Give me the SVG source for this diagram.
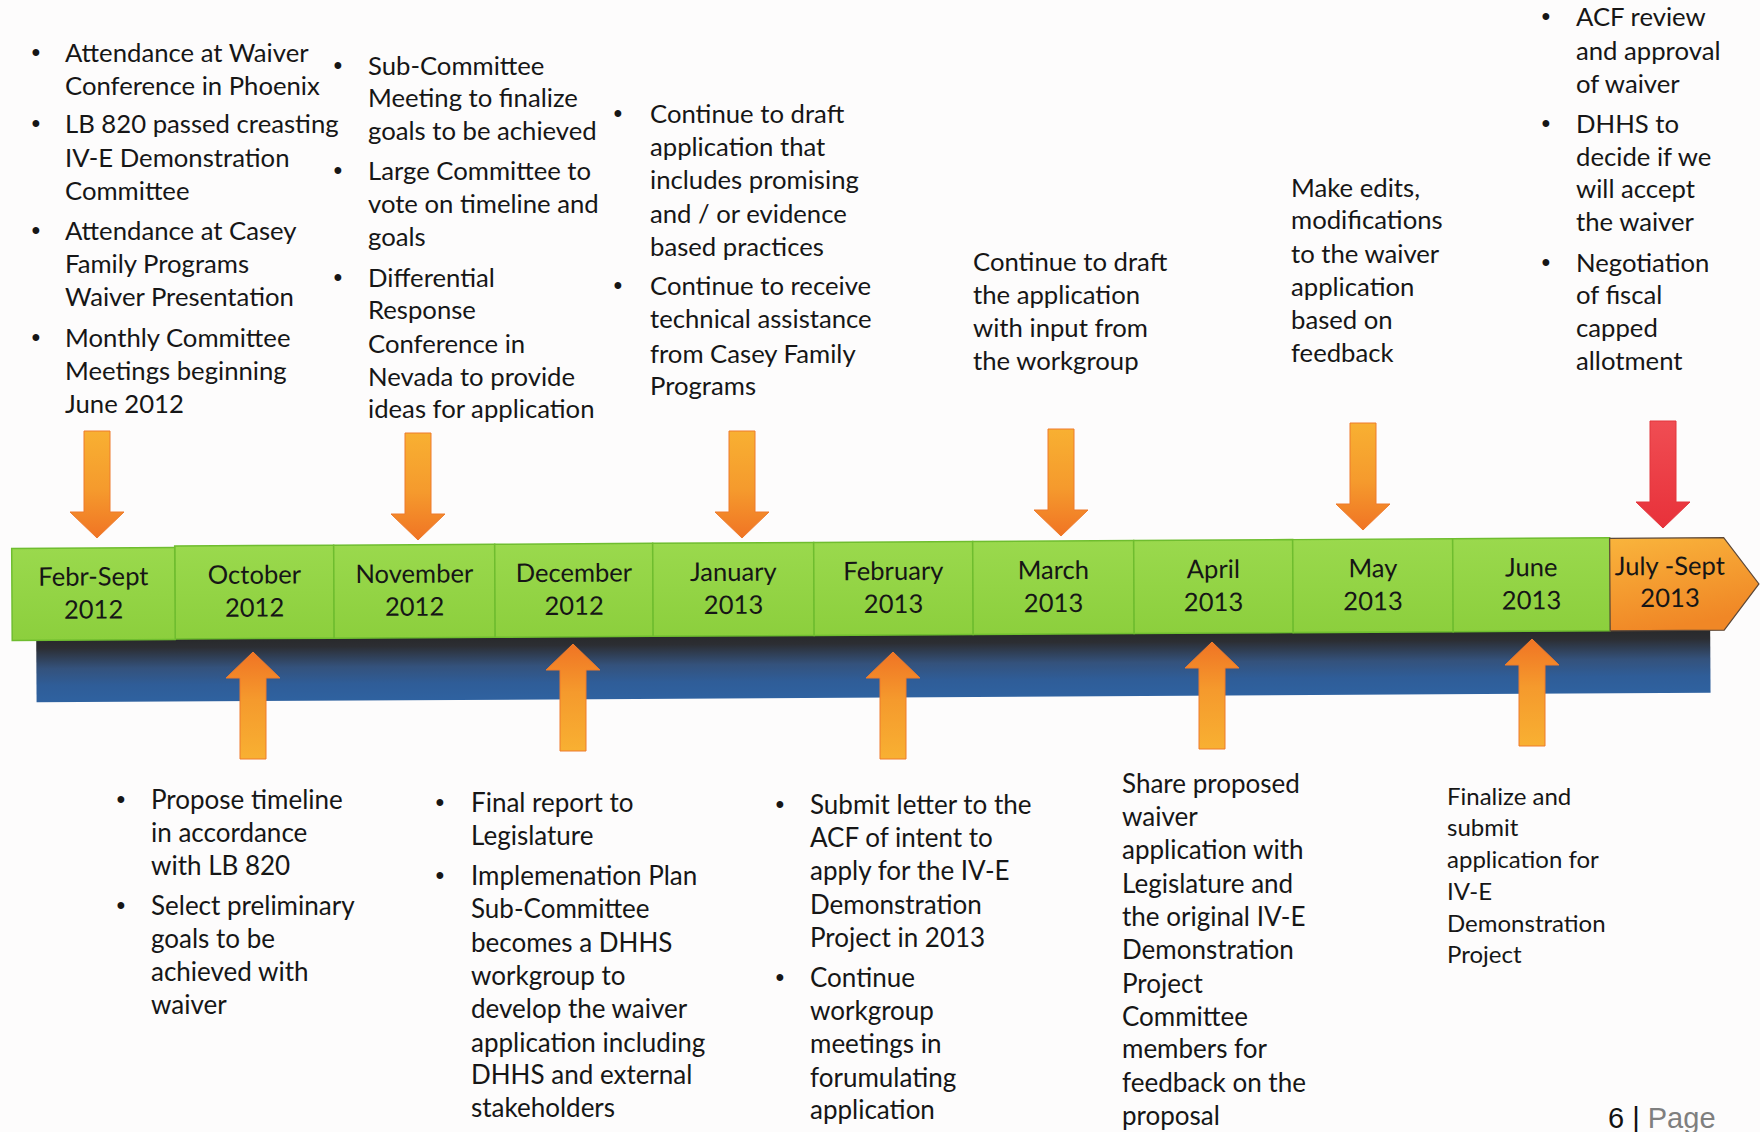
<svg xmlns="http://www.w3.org/2000/svg" xmlns:xlink="http://www.w3.org/1999/xlink" width="1760" height="1132" viewBox="0 0 1760 1132">
  <defs>
    <style>
      .body { font-family: Lato, "Liberation Sans", sans-serif; font-size: 25.7px; fill: #161616; }
      .lower { font-size: 26px; }
      .small { font-size: 24px; }
      .bullet { font-family: "Liberation Sans", sans-serif; font-size: 25px; fill: #161616; text-anchor: middle; }
      .month { font-family: Lato, "Liberation Sans", sans-serif; font-size: 25.6px; fill: #161616; text-anchor: middle; }
      .seg { fill: url(#greenFill); stroke: #6fbd2f; stroke-width: 1.5; }
      .arr { fill: url(#orangeArrow); stroke: #ee7a2c; stroke-width: 1; }
      .footer { font-family: "Liberation Sans", sans-serif; font-size: 29px; }
    </style>
    <linearGradient id="greenFill" x1="0" y1="0" x2="0" y2="1">
      <stop offset="0" stop-color="#9ad94d"/>
      <stop offset="1" stop-color="#8ccf3d"/>
    </linearGradient>
    <linearGradient id="bandFill" x1="0" y1="0" x2="0" y2="1">
      <stop offset="0" stop-color="#262626"/>
      <stop offset="0.2" stop-color="#2c2e33"/>
      <stop offset="0.5" stop-color="#34527c"/>
      <stop offset="0.75" stop-color="#2f5d98"/>
      <stop offset="1" stop-color="#2f62a0"/>
    </linearGradient>
    <linearGradient id="orangeBox" x1="0" y1="0" x2="0.3" y2="1">
      <stop offset="0" stop-color="#f9b43c"/>
      <stop offset="1" stop-color="#f08726"/>
    </linearGradient>
    <linearGradient id="orangeArrow" x1="0" y1="0" x2="0" y2="1">
      <stop offset="0" stop-color="#f8b032"/>
      <stop offset="0.55" stop-color="#f59a2d"/>
      <stop offset="1" stop-color="#f07424"/>
    </linearGradient>
    <linearGradient id="redArrow" x1="0" y1="0" x2="0" y2="1">
      <stop offset="0" stop-color="#f04d53"/>
      <stop offset="1" stop-color="#e8313a"/>
    </linearGradient>
    <!-- block arrow pointing down, tip at the origin -->
    <path id="arrow" d="M-13,-107 H13 V-26 H27 L0,0 L-27,-26 H-13 Z"/>
  </defs>

  <rect x="0" y="0" width="1760" height="1132" fill="#fdfcfc"/>

  <!-- timeline bar (slightly tilted) -->
  <g id="timeline" transform="rotate(-0.33 880 600)">
    <rect id="band" x="36" y="630" width="1674" height="67.5" fill="url(#bandFill)"/>
    <g id="node-oct"><rect class="seg" x="175" y="542" width="159" height="93"/>
      <text class="month" x="254.5" y="580">October<tspan x="254.5" y="613">2012</tspan></text></g>
    <g id="node-nov"><rect class="seg" x="334" y="542" width="161" height="93"/>
      <text class="month" x="414.5" y="580">November<tspan x="414.5" y="613">2012</tspan></text></g>
    <g id="node-dec"><rect class="seg" x="495" y="542" width="158" height="93"/>
      <text class="month" x="574" y="580">December<tspan x="574" y="613">2012</tspan></text></g>
    <g id="node-jan"><rect class="seg" x="653" y="542" width="161" height="93"/>
      <text class="month" x="733.5" y="580">January<tspan x="733.5" y="613">2013</tspan></text></g>
    <g id="node-feb"><rect class="seg" x="814" y="542" width="159" height="93"/>
      <text class="month" x="893.5" y="580">February<tspan x="893.5" y="613">2013</tspan></text></g>
    <g id="node-mar"><rect class="seg" x="973" y="542" width="161" height="93"/>
      <text class="month" x="1053.5" y="580">March<tspan x="1053.5" y="613">2013</tspan></text></g>
    <g id="node-apr"><rect class="seg" x="1134" y="542" width="159" height="93"/>
      <text class="month" x="1213.5" y="580">April<tspan x="1213.5" y="613">2013</tspan></text></g>
    <g id="node-may"><rect class="seg" x="1293" y="542" width="160" height="93"/>
      <text class="month" x="1373" y="580">May<tspan x="1373" y="613">2013</tspan></text></g>
    <g id="node-jun"><rect class="seg" x="1453" y="542" width="157" height="93"/>
      <text class="month" x="1531.5" y="580">June<tspan x="1531.5" y="613">2013</tspan></text></g>
    <g id="node-febsept"><rect class="seg" x="12" y="543.5" width="163" height="92"/>
      <text class="month" x="93.5" y="581">Febr-Sept<tspan x="93.5" y="614">2012</tspan></text></g>
    <g id="node-julsept">
      <path d="M1610,542.5 H1724 L1759,589 L1724,635 H1610 Z" fill="url(#orangeBox)" stroke="#5d4838" stroke-width="1.2"/>
      <text class="month" x="1670" y="579.5">July -Sept<tspan x="1670" y="611.5">2013</tspan></text></g>
  </g>

  <!-- arrows linking notes to months -->
  <g id="connectors">
    <use href="#arrow" class="arr" transform="translate(97,538)"/>
    <use href="#arrow" class="arr" transform="translate(418,540)"/>
    <use href="#arrow" class="arr" transform="translate(742,538)"/>
    <use href="#arrow" class="arr" transform="translate(1061,536)"/>
    <use href="#arrow" class="arr" transform="translate(1363,530)"/>
    <use href="#arrow" fill="url(#redArrow)" stroke="#e2363c" stroke-width="1" transform="translate(1663,528)"/>
    <use href="#arrow" class="arr" transform="translate(253,652) rotate(180)"/>
    <use href="#arrow" class="arr" transform="translate(573,644) rotate(180)"/>
    <use href="#arrow" class="arr" transform="translate(893,652) rotate(180)"/>
    <use href="#arrow" class="arr" transform="translate(1212,642) rotate(180)"/>
    <use href="#arrow" class="arr" transform="translate(1532,639) rotate(180)"/>
  </g>

  <!-- notes above the bar -->
  <g id="note-febsept">
    <text class="bullet"><tspan x="36" y="61">•</tspan><tspan x="36" y="132">•</tspan><tspan x="36" y="239">•</tspan><tspan x="36" y="346">•</tspan></text>
    <text class="body">
      <tspan x="65" y="62">Attendance at Waiver</tspan>
      <tspan x="65" y="95">Conference in Phoenix</tspan>
      <tspan x="65" y="133">LB 820 passed creasting</tspan>
      <tspan x="65" y="167">IV-E Demonstration</tspan>
      <tspan x="65" y="200">Committee</tspan>
      <tspan x="65" y="240">Attendance at Casey</tspan>
      <tspan x="65" y="273">Family Programs</tspan>
      <tspan x="65" y="306">Waiver Presentation</tspan>
      <tspan x="65" y="347">Monthly Committee</tspan>
      <tspan x="65" y="380">Meetings beginning</tspan>
      <tspan x="65" y="413">June 2012</tspan>
    </text>
  </g>
  <g id="note-nov">
    <text class="bullet"><tspan x="338" y="74">•</tspan><tspan x="338" y="179">•</tspan><tspan x="338" y="286">•</tspan></text>
    <text class="body">
      <tspan x="368" y="75">Sub-Committee</tspan>
      <tspan x="368" y="107">Meeting to finalize</tspan>
      <tspan x="368" y="140">goals to be achieved</tspan>
      <tspan x="368" y="180">Large Committee to</tspan>
      <tspan x="368" y="213">vote on timeline and</tspan>
      <tspan x="368" y="246">goals</tspan>
      <tspan x="368" y="287">Differential</tspan>
      <tspan x="368" y="319">Response</tspan>
      <tspan x="368" y="353">Conference in</tspan>
      <tspan x="368" y="386">Nevada to provide</tspan>
      <tspan x="368" y="418">ideas for application</tspan>
    </text>
  </g>
  <g id="note-jan">
    <text class="bullet"><tspan x="618" y="122">•</tspan><tspan x="618" y="294">•</tspan></text>
    <text class="body">
      <tspan x="650" y="123">Continue to draft</tspan>
      <tspan x="650" y="156">application that</tspan>
      <tspan x="650" y="189">includes promising</tspan>
      <tspan x="650" y="223">and / or evidence</tspan>
      <tspan x="650" y="256">based practices</tspan>
      <tspan x="650" y="295">Continue to receive</tspan>
      <tspan x="650" y="328">technical assistance</tspan>
      <tspan x="650" y="363">from Casey Family</tspan>
      <tspan x="650" y="395">Programs</tspan>
    </text>
  </g>
  <g id="note-mar">
    <text class="body">
      <tspan x="973" y="271">Continue to draft</tspan>
      <tspan x="973" y="304">the application</tspan>
      <tspan x="973" y="337">with input from</tspan>
      <tspan x="973" y="370">the workgroup</tspan>
    </text>
  </g>
  <g id="note-may">
    <text class="body">
      <tspan x="1291" y="197">Make edits,</tspan>
      <tspan x="1291" y="229">modifications</tspan>
      <tspan x="1291" y="263">to the waiver</tspan>
      <tspan x="1291" y="296">application</tspan>
      <tspan x="1291" y="329">based on</tspan>
      <tspan x="1291" y="362">feedback</tspan>
    </text>
  </g>
  <g id="note-julsept">
    <text class="bullet"><tspan x="1546" y="25">•</tspan><tspan x="1546" y="132">•</tspan><tspan x="1546" y="271">•</tspan></text>
    <text class="body">
      <tspan x="1576" y="26">ACF review</tspan>
      <tspan x="1576" y="60">and approval</tspan>
      <tspan x="1576" y="93">of waiver</tspan>
      <tspan x="1576" y="133">DHHS to</tspan>
      <tspan x="1576" y="166">decide if we</tspan>
      <tspan x="1576" y="198">will accept</tspan>
      <tspan x="1576" y="231">the waiver</tspan>
      <tspan x="1576" y="272">Negotiation</tspan>
      <tspan x="1576" y="304">of fiscal</tspan>
      <tspan x="1576" y="337">capped</tspan>
      <tspan x="1576" y="370">allotment</tspan>
    </text>
  </g>

  <!-- notes below the bar -->
  <g id="note-oct">
    <text class="bullet"><tspan x="121" y="808">•</tspan><tspan x="121" y="914">•</tspan></text>
    <text class="body lower">
      <tspan x="151" y="809">Propose timeline</tspan>
      <tspan x="151" y="842">in accordance</tspan>
      <tspan x="151" y="875">with LB 820</tspan>
      <tspan x="151" y="915">Select preliminary</tspan>
      <tspan x="151" y="948">goals to be</tspan>
      <tspan x="151" y="981">achieved with</tspan>
      <tspan x="151" y="1014">waiver</tspan>
    </text>
  </g>
  <g id="note-dec">
    <text class="bullet"><tspan x="440" y="811">•</tspan><tspan x="440" y="884">•</tspan></text>
    <text class="body lower">
      <tspan x="471" y="812">Final report to</tspan>
      <tspan x="471" y="845">Legislature</tspan>
      <tspan x="471" y="885">Implemenation Plan</tspan>
      <tspan x="471" y="918">Sub-Committee</tspan>
      <tspan x="471" y="952">becomes a DHHS</tspan>
      <tspan x="471" y="985">workgroup to</tspan>
      <tspan x="471" y="1018">develop the waiver</tspan>
      <tspan x="471" y="1052">application including</tspan>
      <tspan x="471" y="1084">DHHS and external</tspan>
      <tspan x="471" y="1117">stakeholders</tspan>
    </text>
  </g>
  <g id="note-feb">
    <text class="bullet"><tspan x="780" y="813">•</tspan><tspan x="780" y="986">•</tspan></text>
    <text class="body lower">
      <tspan x="810" y="814">Submit letter to the</tspan>
      <tspan x="810" y="847">ACF of intent to</tspan>
      <tspan x="810" y="880">apply for the IV-E</tspan>
      <tspan x="810" y="914">Demonstration</tspan>
      <tspan x="810" y="947">Project in 2013</tspan>
      <tspan x="810" y="987">Continue</tspan>
      <tspan x="810" y="1020">workgroup</tspan>
      <tspan x="810" y="1053">meetings in</tspan>
      <tspan x="810" y="1087">forumulating</tspan>
      <tspan x="810" y="1119">application</tspan>
    </text>
  </g>
  <g id="note-apr">
    <text class="body lower">
      <tspan x="1122" y="793">Share proposed</tspan>
      <tspan x="1122" y="826">waiver</tspan>
      <tspan x="1122" y="859">application with</tspan>
      <tspan x="1122" y="893">Legislature and</tspan>
      <tspan x="1122" y="926">the original IV-E</tspan>
      <tspan x="1122" y="959">Demonstration</tspan>
      <tspan x="1122" y="993">Project</tspan>
      <tspan x="1122" y="1026">Committee</tspan>
      <tspan x="1122" y="1058">members for</tspan>
      <tspan x="1122" y="1092">feedback on the</tspan>
      <tspan x="1122" y="1125">proposal</tspan>
    </text>
  </g>
  <g id="note-jun">
    <text class="body small">
      <tspan x="1447" y="805">Finalize and</tspan>
      <tspan x="1447" y="836">submit</tspan>
      <tspan x="1447" y="868">application for</tspan>
      <tspan x="1447" y="900">IV-E</tspan>
      <tspan x="1447" y="932">Demonstration</tspan>
      <tspan x="1447" y="963">Project</tspan>
    </text>
  </g>

  <!-- page number -->
  <text class="footer" x="1608" y="1128"><tspan fill="#111111">6 | </tspan><tspan fill="#7f7f7f">Page</tspan></text>
</svg>
